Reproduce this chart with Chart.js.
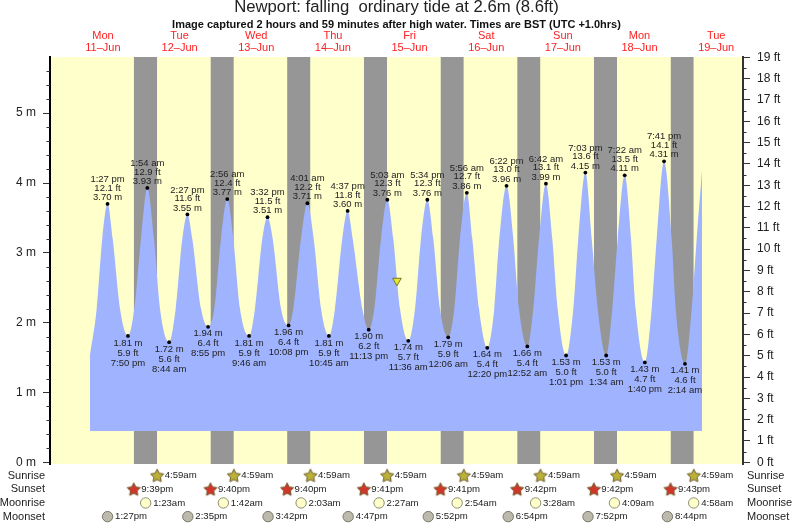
<!DOCTYPE html>
<html lang="en">
  <head>
    <meta charset="UTF-8">
    <title>Newport tide chart</title>
    <style>
      body { margin: 0; background: #fff; }
    </style>
    <script src="https://cdn.jsdelivr.net/npm/chart.js"></script>
  </head>

  <body>
    <canvas id="myChart" width="793" height="524"></canvas>

<script>
  const dayNames = ['Mon', 'Tue', 'Wed', 'Thu', 'Fri', 'Sat', 'Sun', 'Mon', 'Tue'];
  const dayDates = ['11–Jun', '12–Jun', '13–Jun', '14–Jun', '15–Jun', '16–Jun', '17–Jun', '18–Jun', '19–Jun'];

  // tide turning points, in order. day = index into dayNames
  const tideDays = [0, 0, 1, 1, 1, 1, 2, 2, 2, 2, 3, 3, 3, 3, 4, 4, 4, 5, 5, 5, 5, 6, 6, 6, 6, 7, 7, 7, 7, 8];
  const tideTimes = ['1:27 pm', '7:50 pm', '1:54 am', '8:44 am', '2:27 pm', '8:55 pm', '2:56 am', '9:46 am', '3:32 pm', '10:08 pm',
    '4:01 am', '10:45 am', '4:37 pm', '11:13 pm', '5:03 am', '11:36 am', '5:34 pm', '12:06 am', '5:56 am', '12:20 pm', '6:22 pm',
    '12:52 am', '6:42 am', '1:01 pm', '7:03 pm', '1:34 am', '7:22 am', '1:40 pm', '7:41 pm', '2:14 am'];
  const tideMetres = ['3.70', '1.81', '3.93', '1.72', '3.55', '1.94', '3.77', '1.81', '3.51', '1.96',
    '3.71', '1.81', '3.60', '1.90', '3.76', '1.74', '3.76', '1.79', '3.86', '1.64', '3.96',
    '1.66', '3.99', '1.53', '4.15', '1.53', '4.11', '1.43', '4.31', '1.41'];
  const tideFeet = ['12.1', '5.9', '12.9', '5.6', '11.6', '6.4', '12.4', '5.9', '11.5', '6.4',
    '12.2', '5.9', '11.8', '6.2', '12.3', '5.7', '12.3', '5.9', '12.7', '5.4', '13.0',
    '5.4', '13.1', '5.0', '13.6', '5.0', '13.5', '4.7', '14.1', '4.6'];

  // hours (since 11-Jun 00:00) at which the water edge crosses 3.2 m and 2.2 m
  const level32Hours = [11.80, 15.06, 23.92, 27.99, 36.85, 39.98, 48.97, 52.82, 61.90, 65.15, 74.01, 77.99, 86.94, 90.20, 99.06, 102.91,
    111.58, 115.44, 123.79, 127.65, 136.10, 140.48, 148.53, 152.69, 160.83, 165.03, 173.17, 177.33, 185.38, 190.07, 197.90];
  const level22Hours = [10.05, 17.35, 21.82, 29.87, 34.78, 42.71, 46.87, 54.92, 59.61, 67.75, 71.60, 80.28, 84.66, 93.21, 96.96, 105.01,
    109.71, 117.53, 122.01, 129.74, 134.53, 142.27, 146.74, 154.38, 159.27, 166.91, 171.48, 178.80, 183.81, 191.33, 196.34];

  // where the water curve starts and stops: hours, metres
  const curveStart = { x: 7.95, y: 1.54 };
  const curveEnd = { x: 199.6, y: 4.2 };
  const waterFloor = 0.45;
  const currentTide = { x: 104.05, y: 2.6 };

  const sunrises = ['4:59am', '4:59am', '4:59am', '4:59am', '4:59am', '4:59am', '4:59am', '4:59am'];
  const sunsets = ['9:39pm', '9:40pm', '9:40pm', '9:41pm', '9:41pm', '9:42pm', '9:42pm', '9:43pm'];
  const moonrises = ['1:23am', '1:42am', '2:03am', '2:27am', '2:54am', '3:28am', '4:09am', '4:58am'];
  const moonsets = ['1:27pm', '2:35pm', '3:42pm', '4:47pm', '5:52pm', '6:54pm', '7:52pm', '8:44pm'];
  const rowNames = ['Sunrise', 'Sunset', 'Moonrise', 'Moonset'];

  const FONT = '"Liberation Sans", Arial, sans-serif';
  const YELLOW = '#ffffcc';
  const WATER = '#9fb3ff';
  const NIGHT = '#969696';

  // "1:27 pm" on day n -> hours since 11-Jun 00:00
  function toHours(day, text) {
    const m = text.match(/(\d+):(\d+)\s*(am|pm)/);
    const h = (Number(m[1]) % 12) + (m[3] === 'pm' ? 12 : 0);
    return day * 24 + h + Number(m[2]) / 60;
  }

  function makeStar(fill) {
    const c = document.createElement('canvas');
    c.width = 16;
    c.height = 16;
    const g = c.getContext('2d');
    g.beginPath();
    for (let i = 0; i < 10; i++) {
      const r = i % 2 ? 3.5 : 6.9;
      const a = -Math.PI / 2 + i * Math.PI / 5;
      g.lineTo(8 + r * Math.cos(a), 8.5 + r * Math.sin(a));
    }
    g.closePath();
    g.fillStyle = fill;
    g.fill();
    g.strokeStyle = '#6e5a28';
    g.lineWidth = 1;
    g.stroke();
    return c;
  }

  const tidePoints = tideDays.map((d, i) => ({ x: toHours(d, tideTimes[i]), y: Number(tideMetres[i]) }));

  const waterPoints = [
    curveStart,
    ...tidePoints,
    ...level32Hours.map(x => ({ x: x, y: 3.2 })),
    ...level22Hours.map(x => ({ x: x, y: 2.2 })),
    curveEnd,
  ].sort((a, b) => a.x - b.x);

  const sunriseHours = sunrises.map((t, i) => toHours(i + 1, t));
  const sunsetHours = sunsets.map((t, i) => toHours(i, t));
  const moonriseHours = moonrises.map((t, i) => toHours(i + 1, t));
  const moonsetHours = moonsets.map((t, i) => toHours(i, t));

  const X_MIN = -4.57, X_MAX = 212.4;
  const M_MIN = -0.024, M_MAX = 5.804;

  const nightSets = sunsetHours.map((start, i) => ({
    data: [{ x: start, y: M_MAX }, { x: sunriseHours[i], y: M_MAX }],
    yAxisID: 'y',
    showLine: true,
    borderWidth: 0,
    pointRadius: 0,
    backgroundColor: NIGHT,
    fill: { value: M_MIN },
    order: 10,
  }));

  function rowSet(hours, row, style, radius, fill, edge) {
    return {
      data: hours.map(x => ({ x: x, y: -row })),
      yAxisID: 'yRows',
      showLine: false,
      pointStyle: style,
      pointRadius: radius,
      pointBackgroundColor: fill,
      pointBorderColor: edge,
      pointBorderWidth: 1,
      order: 1,
    };
  }

  const backgroundPlugin = {
    id: 'plotBackground',
    beforeDraw(chart) {
      const a = chart.chartArea;
      chart.ctx.fillStyle = YELLOW;
      chart.ctx.fillRect(a.left, a.top, a.width, a.height);
    },
  };

  const textPlugin = {
    id: 'chartText',
    afterDraw(chart) {
      const ctx = chart.ctx;
      const xs = chart.scales.x, ys = chart.scales.y, rows = chart.scales.yRows;
      const ft = chart.scales.yFt;
      ctx.save();

      // the row marks sit below the plot, points outside chartArea are skipped by the library
      chart.data.datasets.forEach((ds, i) => {
        if (ds.yAxisID !== 'yRows') return;
        chart.getDatasetMeta(i).data.forEach(p => p.draw(ctx, { left: 0, top: 0, right: chart.width, bottom: chart.height }));
      });

      // minor ticks
      ctx.strokeStyle = '#333';
      ctx.lineWidth = 1;
      ctx.beginPath();
      for (let i = 0; i < 29; i++) {
        if (i % 5 === 0) continue;
        const py = Math.round(ys.getPixelForValue(i * 0.2)) + 0.5;
        ctx.moveTo(ys.right - 3.5, py);
        ctx.lineTo(ys.right, py);
      }
      for (let i = 1; i < 38; i += 2) {
        const py = Math.round(ft.getPixelForValue(i * 0.5)) + 0.5;
        ctx.moveTo(ft.left, py);
        ctx.lineTo(ft.left + 3.5, py);
      }
      ctx.stroke();

      ctx.textBaseline = 'middle';
      ctx.textAlign = 'center';

      // day headings
      ctx.font = '11px ' + FONT;
      ctx.fillStyle = '#ff2020';
      dayNames.forEach((name, i) => {
        const px = xs.getPixelForValue(i * 24 + 12);
        ctx.fillText(name, px, 36);
        ctx.fillText(dayDates[i], px, 48);
      });

      // high / low water labels
      ctx.font = '9.5px ' + FONT;
      ctx.fillStyle = '#222';
      tidePoints.forEach((p, i) => {
        const px = xs.getPixelForValue(p.x);
        const py = ys.getPixelForValue(p.y);
        if (p.y > 3) {
          ctx.fillText(tideTimes[i], px, py - 24.5);
          ctx.fillText(tideFeet[i] + ' ft', px, py - 16);
          ctx.fillText(tideMetres[i] + ' m', px, py - 6.5);
        } else {
          ctx.fillText(tideMetres[i] + ' m', px, py + 7);
          ctx.fillText(tideFeet[i] + ' ft', px, py + 17);
          ctx.fillText(tideTimes[i], px, py + 27);
        }
      });

      // sun and moon times
      ctx.font = '9.6px ' + FONT;
      ctx.textAlign = 'left';
      [sunriseHours, sunsetHours, moonriseHours, moonsetHours].forEach((hours, row) => {
        const texts = [sunrises, sunsets, moonrises, moonsets][row];
        hours.forEach((h, i) => {
          ctx.fillText(texts[i], xs.getPixelForValue(h) + 7.5, rows.getPixelForValue(-row));
        });
      });

      // row names on both sides
      ctx.font = '11px ' + FONT;
      rowNames.forEach((name, row) => {
        const py = rows.getPixelForValue(-row);
        ctx.textAlign = 'right';
        ctx.fillText(name, 45, py);
        ctx.textAlign = 'left';
        ctx.fillText(name, 747, py);
      });
      ctx.restore();
    },
  };

  const fixedWidth = scale => { scale.width = 50; };

  new Chart(document.getElementById('myChart'), {
    type: 'scatter',
    plugins: [backgroundPlugin, textPlugin],
    data: {
      datasets: [
        ...nightSets,
        {
          // water
          data: waterPoints,
          yAxisID: 'y',
          showLine: true,
          borderWidth: 0,
          pointRadius: 0,
          backgroundColor: WATER,
          cubicInterpolationMode: 'monotone',
          fill: { value: waterFloor },
          order: 5,
        },
        {
          // high and low water dots
          data: tidePoints,
          yAxisID: 'y',
          showLine: false,
          pointRadius: 1.9,
          pointBackgroundColor: '#000',
          pointBorderWidth: 0,
          order: 2,
        },
        {
          // tide now
          data: [currentTide],
          yAxisID: 'y',
          showLine: false,
          pointStyle: 'triangle',
          rotation: 180,
          pointRadius: 5,
          pointBackgroundColor: '#e6e632',
          pointBorderColor: '#77772a',
          pointBorderWidth: 1,
          order: 1,
        },
        rowSet(sunriseHours, 0, makeStar('#b9b13a'), 8),
        rowSet(sunsetHours, 1, makeStar('#d2362a'), 8),
        rowSet(moonriseHours, 2, 'circle', 5.2, YELLOW, '#8f8f70'),
        rowSet(moonsetHours, 3, 'circle', 5.2, '#bdb9ab', '#77756a'),
      ],
    },
    options: {
      responsive: false,
      animation: false,
      events: [],
      layout: { padding: { left: 0, right: 0, top: 0, bottom: 60 } },
      plugins: {
        legend: { display: false },
        tooltip: { enabled: false },
        title: {
          display: true,
          text: 'Newport: falling  ordinary tide at 2.6m (8.6ft)',
          color: '#222',
          font: { family: FONT, size: 16.7, weight: 'normal', lineHeight: 0.9 },
          padding: 0,
        },
        subtitle: {
          display: true,
          text: 'Image captured 2 hours and 59 minutes after high water. Times are BST (UTC +1.0hrs)',
          color: '#111',
          font: { family: FONT, size: 11, weight: 'bold', lineHeight: 1.3 },
          padding: { top: 2.5, bottom: 25.2 },
        },
      },
      scales: {
        x: {
          type: 'linear',
          display: false,
          min: X_MIN,
          max: X_MAX,
        },
        y: {
          position: 'left',
          min: M_MIN,
          max: M_MAX,
          afterFit: fixedWidth,
          grid: { drawOnChartArea: false, tickLength: 7, tickColor: '#333' },
          border: { color: '#000', width: 2 },
          ticks: {
            stepSize: 1,
            includeBounds: false,
            padding: 7,
            color: '#222',
            font: { family: FONT, size: 12 },
            callback: (v) => v + ' m',
          },
        },
        yFt: {
          position: 'right',
          min: -0.08,
          max: 19.013,
          afterFit: fixedWidth,
          grid: { drawOnChartArea: false, tickLength: 7, tickColor: '#333' },
          border: { color: '#333', width: 2 },
          ticks: {
            stepSize: 1,
            includeBounds: false,
            padding: 7,
            color: '#222',
            font: { family: FONT, size: 12 },
            callback: (v) => v + ' ft',
          },
        },
        yRows: {
          // hidden, one unit per row; row 0 = Sunrise, just below the plot
          axis: 'y',
          display: false,
          min: 0.85,
          max: 30.63,
        },
      },
    },
  });
</script>

  </body>
</html>
